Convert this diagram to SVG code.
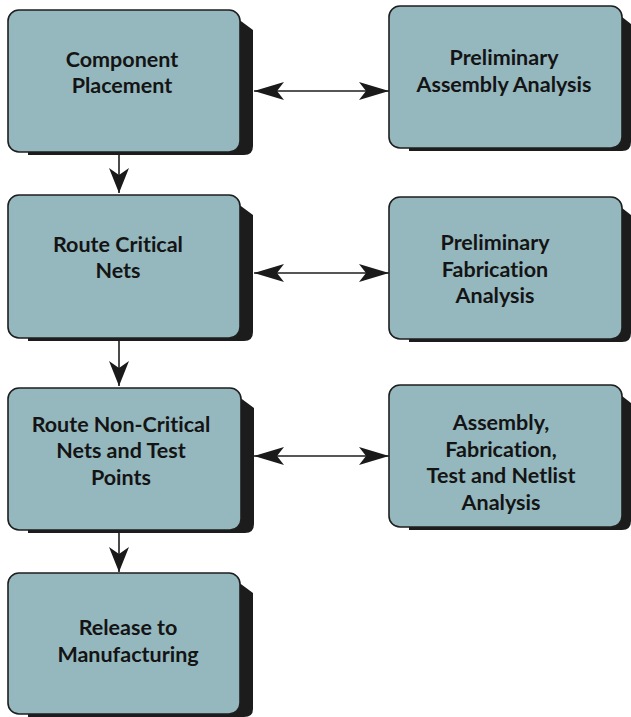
<svg xmlns="http://www.w3.org/2000/svg" width="631" height="717" viewBox="0 0 631 717">
<style>
.face{fill:#95b8bf;stroke:#1e1e1e;stroke-width:1.6}
.shd{fill:#1c1c1c}
.lbl{font-family:Lato,"Liberation Sans",sans-serif;font-weight:700;font-size:21.5px;fill:#141414;text-anchor:middle;font-variant-ligatures:none;font-feature-settings:"liga" 0,"clig" 0}
.ln{stroke:#1e1e1e;stroke-width:1.6;fill:none}
</style>
<defs>
<marker id="ah" markerUnits="userSpaceOnUse" viewBox="-31 -10 32 20" refX="0" refY="0" markerWidth="32" markerHeight="20" orient="auto-start-reverse">
<path d="M0,0 L-30,-9 L-23,0 L-30,9 Z" fill="#1a1a1a"/>
</marker>
<marker id="av" markerUnits="userSpaceOnUse" viewBox="-26 -11 27 22" refX="0" refY="0" markerWidth="27" markerHeight="22" orient="auto">
<path d="M0,0 L-25,-10 L-18,0 L-25,10 Z" fill="#1a1a1a"/>
</marker>
</defs>
<g id="connectors">
<line class="ln" x1="119" y1="152" x2="119" y2="193" marker-end="url(#av)"/>
<line class="ln" x1="119" y1="338" x2="119" y2="386" marker-end="url(#av)"/>
<line class="ln" x1="119" y1="530" x2="119" y2="572" marker-end="url(#av)"/>
<line class="ln" x1="254" y1="91" x2="389" y2="91" marker-start="url(#ah)" marker-end="url(#ah)"/>
<line class="ln" x1="254" y1="273" x2="389" y2="273" marker-start="url(#ah)" marker-end="url(#ah)"/>
<line class="ln" x1="254" y1="456" x2="389" y2="456" marker-start="url(#ah)" marker-end="url(#ah)"/>
</g>
<g id="component-placement">
<path class="shd" d="M226 10 L253 30 L253 146 Q253 155 244 155 L28 155 L28 130 L226 130 Z"/>
<rect class="face" x="8" y="10" width="232" height="142" rx="11"/>
<text class="lbl" x="122" y="67">Component</text>
<text class="lbl" x="122" y="93">Placement</text>
</g>
<g id="preliminary-assembly-analysis">
<path class="shd" d="M608 6 L631 24 L631 142 Q631 151 622 151 L409 151 L409 126 L608 126 Z"/>
<rect class="face" x="389" y="6" width="233" height="142" rx="11"/>
<text class="lbl" x="504" y="65">Preliminary</text>
<text class="lbl" x="504" y="92">Assembly Analysis</text>
</g>
<g id="route-critical-nets">
<path class="shd" d="M226 195 L253 215 L253 332 Q253 341 244 341 L28 341 L28 316 L226 316 Z"/>
<rect class="face" x="8" y="195" width="232" height="143" rx="11"/>
<text class="lbl" x="118" y="252">Route Critical</text>
<text class="lbl" x="118" y="278">Nets</text>
</g>
<g id="preliminary-fabrication-analysis">
<path class="shd" d="M608 197 L631 215 L631 333 Q631 342 622 342 L409 342 L409 317 L608 317 Z"/>
<rect class="face" x="389" y="197" width="233" height="142" rx="11"/>
<text class="lbl" x="495" y="250">Preliminary</text>
<text class="lbl" x="495" y="277">Fabrication</text>
<text class="lbl" x="495" y="303">Analysis</text>
</g>
<g id="route-non-critical">
<path class="shd" d="M227 388 L254 408 L254 524 Q254 533 245 533 L28 533 L28 508 L227 508 Z"/>
<rect class="face" x="8" y="388" width="233" height="142" rx="11"/>
<text class="lbl" x="121" y="432">Route Non-Critical</text>
<text class="lbl" x="121" y="458">Nets and Test</text>
<text class="lbl" x="121" y="485">Points</text>
</g>
<g id="assembly-fabrication-test-netlist">
<path class="shd" d="M608 385 L631 403 L631 521 Q631 530 622 530 L409 530 L409 505 L608 505 Z"/>
<rect class="face" x="389" y="385" width="233" height="142" rx="11"/>
<text class="lbl" x="501" y="430">Assembly,</text>
<text class="lbl" x="501" y="457">Fabrication,</text>
<text class="lbl" x="501" y="483">Test and Netlist</text>
<text class="lbl" x="501" y="510">Analysis</text>
</g>
<g id="release-to-manufacturing">
<path class="shd" d="M226 573 L253 593 L253 709 Q253 717 244 717 L28 717 L28 690 L226 690 Z"/>
<rect class="face" x="8" y="573" width="232" height="141" rx="11"/>
<text class="lbl" x="128" y="635">Release to</text>
<text class="lbl" x="128" y="662">Manufacturing</text>
</g>
</svg>
